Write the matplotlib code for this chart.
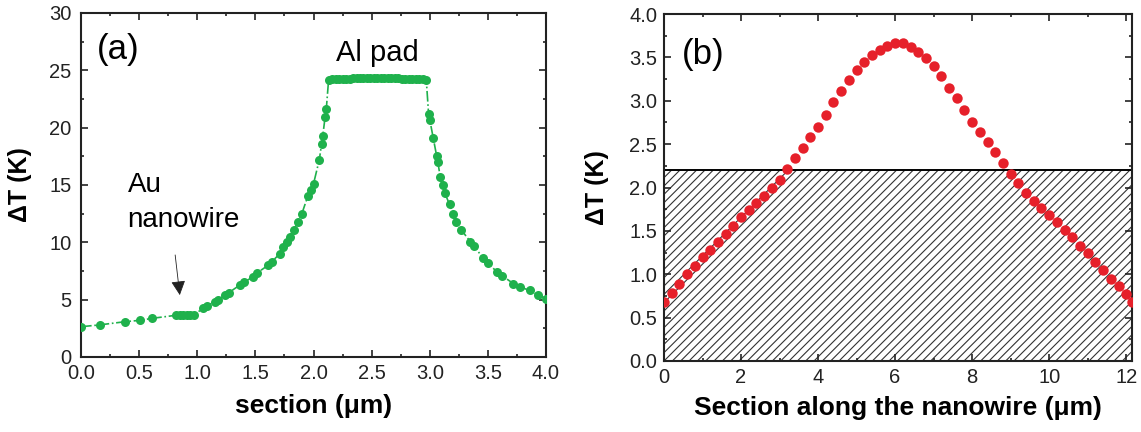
import matplotlib
matplotlib.use("Agg")
import matplotlib.pyplot as plt
from matplotlib.ticker import MultipleLocator, FormatStrFormatter

plt.rcParams['font.family'] = ['Liberation Sans', 'DejaVu Sans']
plt.rcParams['hatch.linewidth'] = 0.8

# ---------------- data: panel (a) ----------------
sec_a = [0.00, 0.16, 0.38, 0.51, 0.61, 0.82, 0.85, 0.88, 0.91, 0.94, 0.97,
         1.05, 1.08, 1.15, 1.18, 1.24, 1.27, 1.37, 1.40, 1.48, 1.51, 1.61, 1.64,
         1.71, 1.74, 1.77, 1.80, 1.83, 1.87, 1.90, 1.95, 1.98, 2.00, 2.05, 2.07,
         2.08, 2.10, 2.11, 2.13,
         2.16, 2.19, 2.22, 2.25, 2.28, 2.31, 2.34, 2.37, 2.40, 2.43, 2.46, 2.49,
         2.52, 2.55, 2.58, 2.61, 2.64, 2.67, 2.70, 2.73, 2.76, 2.79, 2.82, 2.85,
         2.88, 2.91, 2.94, 2.97,
         2.99, 3.00, 3.03, 3.06, 3.07, 3.09, 3.11, 3.13, 3.17, 3.20, 3.23, 3.27,
         3.35, 3.38, 3.46, 3.50, 3.58, 3.62, 3.72, 3.78, 3.86, 3.93, 4.00]
dT_a = [2.64, 2.80, 3.08, 3.20, 3.37, 3.64, 3.65, 3.66, 3.66, 3.66, 3.67,
        4.24, 4.45, 4.80, 5.00, 5.40, 5.60, 6.30, 6.50, 7.00, 7.30, 8.00, 8.30,
        9.00, 9.60, 10.0, 10.5, 11.1, 11.8, 12.5, 14.0, 14.6, 15.1, 17.2, 18.6,
        19.3, 20.95, 21.6, 24.2,
        24.25, 24.25, 24.25, 24.25, 24.25, 24.25, 24.3, 24.3, 24.3, 24.3, 24.3, 24.3,
        24.3, 24.3, 24.3, 24.3, 24.3, 24.3, 24.3, 24.3, 24.25, 24.25, 24.25, 24.25,
        24.25, 24.25, 24.25, 24.2,
        21.2, 20.7, 19.1, 17.5, 17.0, 15.7, 15.0, 14.3, 13.3, 12.5, 11.8, 11.1,
        10.05, 9.7, 8.6, 8.2, 7.4, 7.1, 6.4, 6.1, 5.8, 5.4, 5.1]

# ---------------- data: panel (b) ----------------
sec_b = [0.0, 0.2, 0.4, 0.6, 0.8, 1.0, 1.2, 1.4, 1.6, 1.8, 2.0, 2.2, 2.4, 2.6,
         2.8, 3.0, 3.2, 3.4, 3.6, 3.8, 4.0, 4.2, 4.4, 4.6, 4.8, 5.0, 5.2, 5.4,
         5.6, 5.8, 6.0, 6.2, 6.4, 6.6, 6.8, 7.0, 7.2, 7.4, 7.6, 7.8, 8.0, 8.2,
         8.4, 8.6, 8.8, 9.0, 9.2, 9.4, 9.6, 9.8, 10.0, 10.2, 10.4, 10.6, 10.8,
         11.0, 11.2, 11.4, 11.6, 11.8, 12.0, 12.15]
dT_b = [0.68, 0.78, 0.89, 1.00, 1.10, 1.20, 1.28, 1.37, 1.46, 1.56, 1.66, 1.74,
        1.82, 1.90, 2.00, 2.09, 2.21, 2.34, 2.46, 2.58, 2.70, 2.84, 2.98, 3.11,
        3.24, 3.36, 3.45, 3.53, 3.59, 3.63, 3.66, 3.67, 3.62, 3.56, 3.49, 3.40,
        3.28, 3.15, 3.03, 2.89, 2.76, 2.64, 2.53, 2.41, 2.28, 2.16, 2.05, 1.94,
        1.85, 1.76, 1.68, 1.60, 1.51, 1.43, 1.33, 1.24, 1.14, 1.05, 0.95, 0.86,
        0.77, 0.68]
threshold_b = 2.2

GREEN = '#1fb14c'
RED = '#e6202a'

fig = plt.figure(figsize=(11.41, 4.32), dpi=100)
ax1 = fig.add_axes([81/1141, 1-357/432, (546-81)/1141, (357-13)/432])
ax2 = fig.add_axes([664/1141, 1-361/432, (1132-664)/1141, (361-14)/432])

# panel (a)
ax1.plot(sec_a, dT_a, linestyle='-.', color=GREEN, lw=1.2,
         marker='o', markersize=6.5, markeredgewidth=0, zorder=3)
ax1.set_xlim(0, 4.0)
ax1.set_ylim(0, 30)
ax1.xaxis.set_major_locator(MultipleLocator(0.5))
ax1.xaxis.set_minor_locator(MultipleLocator(0.25))
ax1.xaxis.set_major_formatter(FormatStrFormatter('%.1f'))
ax1.yaxis.set_major_locator(MultipleLocator(5))
ax1.yaxis.set_minor_locator(MultipleLocator(2.5))
ax1.set_xlabel('section (μm)', fontsize=19, fontweight='bold')
ax1.set_ylabel('ΔT (K)', fontsize=18, fontweight='bold')
ax1.xaxis.set_label_coords(0.5, -0.108)
ax1.yaxis.set_label_coords(-0.105, 0.5)
ax1.text(0.14, 26.8, '(a)', fontsize=25, va='center', ha='left')
ax1.text(2.55, 25.8, 'Al pad', fontsize=21, va='baseline', ha='center')
ax1.text(0.40, 14.4, 'Au', fontsize=20, va='baseline', ha='left')
ax1.text(0.40, 11.33, 'nanowire', fontsize=20, va='baseline', ha='left')
ax1.annotate('', xy=(0.85, 5.4), xytext=(0.81, 8.9),
             arrowprops=dict(arrowstyle='-|>', color='#222222', lw=0.6,
                             mutation_scale=22, shrinkA=0, shrinkB=0))

# panel (b)
ax2.axhspan(0, threshold_b, hatch='////', facecolor='none', edgecolor='#333333',
            linewidth=0, zorder=1)
ax2.axhline(threshold_b, color='black', lw=1.4, zorder=2)
ax2.plot(sec_b, dT_b, linestyle='none', color=RED, marker='o',
         markersize=7.5, markeredgewidth=0, zorder=3)
ax2.set_xlim(0, 12.15)
ax2.set_ylim(0, 4.0)
ax2.xaxis.set_major_locator(MultipleLocator(2))
ax2.xaxis.set_minor_locator(MultipleLocator(1))
ax2.yaxis.set_major_locator(MultipleLocator(0.5))
ax2.yaxis.set_minor_locator(MultipleLocator(0.25))
ax2.yaxis.set_major_formatter(FormatStrFormatter('%.1f'))
ax2.set_xlabel('Section along the nanowire (μm)', fontsize=19, fontweight='bold')
ax2.set_ylabel('ΔT (K)', fontsize=18, fontweight='bold')
ax2.xaxis.set_label_coords(0.5, -0.10)
ax2.yaxis.set_label_coords(-0.1175, 0.5)
ax2.text(0.47, 3.53, '(b)', fontsize=25, va='center', ha='left')

for ax in (ax1, ax2):
    for s in ax.spines.values():
        s.set_linewidth(1.5)
        s.set_color('#222222')
    ax.tick_params(which='both', direction='in', top=True, right=True,
                   width=1.2, colors='#222222', labelcolor='#222222')
    ax.tick_params(which='major', length=5, labelsize=14.5)
    ax.tick_params(which='minor', length=2.5)
    ax.tick_params(axis='x', which='major', pad=5)
ax1.tick_params(axis='y', which='major', pad=7)
ax2.tick_params(axis='y', which='major', pad=5)

fig.savefig('out.png', dpi=100)
